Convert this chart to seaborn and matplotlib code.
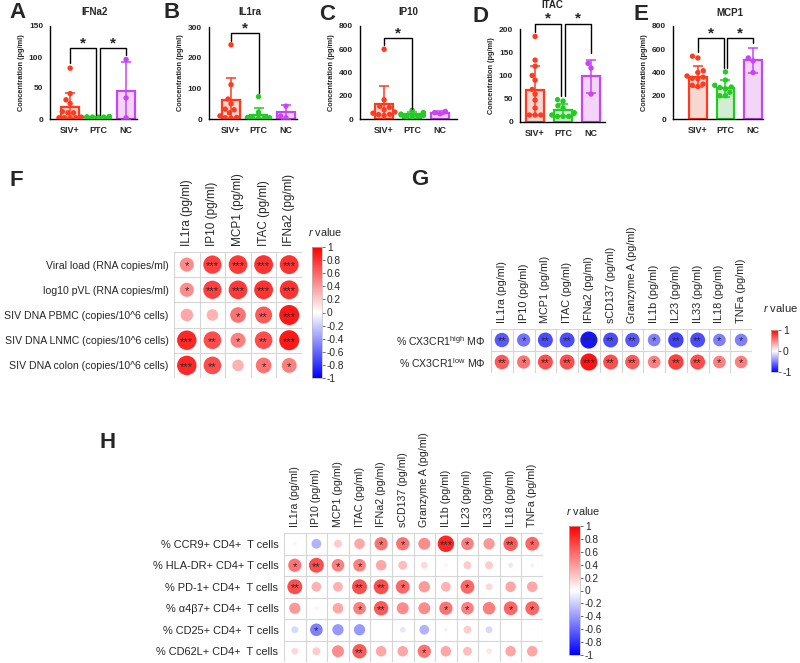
import numpy as np
import pandas as pd
import matplotlib
matplotlib.use("Agg")
import matplotlib.pyplot as plt
import seaborn as sns
from matplotlib.colors import Normalize
from matplotlib.cm import ScalarMappable

sns.set_style("white")
plt.rcParams["font.family"] = ["Liberation Sans", "DejaVu Sans"]
plt.rcParams["mathtext.fontset"] = "custom"
plt.rcParams["mathtext.rm"] = "Liberation Sans"
plt.rcParams["mathtext.it"] = "Liberation Sans:italic"

# ---------------- data: bar panels ----------------
groups = ["SIV+", "PTC", "NC"]

ifna2_means = [19, 3, 45]
ifna2_sd = [23, 1, 47]
ifna2_siv = [82, 41, 31, 25, 12, 10, 10, 3, 2, 2, 2, 2]
ifna2_ptc = [4, 3, 3, 3, 3, 3, 3, 3, 3]
ifna2_nc = [96, 34, 2]

il1ra_means = [62, 13, 23]
il1ra_sd = [71, 22, 22]
il1ra_siv = [242, 112, 65, 50, 32, 30, 20, 10, 5, 4, 3]
il1ra_ptc = [73, 22, 5, 4, 3, 2, 2, 2]
il1ra_nc = [42, 10, 4]

ip10_means = [130, 40, 55]
ip10_sd = [153, 18, 12]
ip10_siv = [600, 165, 110, 100, 80, 60, 50, 40, 38, 30]
ip10_ptc = [75, 55, 50, 42, 35, 30, 25, 20, 15]
ip10_nc = [65, 55, 45]

itac_means = [68, 25, 98]
itac_sd = [52, 13, 36]
itac_siv = [184, 133, 120, 100, 90, 70, 60, 47, 30, 15, 15, 15]
itac_ptc = [48, 45, 35, 30, 20, 18, 15, 12, 12, 12]
itac_nc = [126, 116, 60]

mcp1_means = [365, 265, 505]
mcp1_sd = [90, 72, 105]
mcp1_siv = [540, 525, 415, 400, 370, 360, 350, 345, 300, 290, 280]
mcp1_ptc = [405, 335, 290, 275, 270, 260, 230, 200, 200]
mcp1_nc = [525, 500, 400]

# ---------------- data: correlation panels ----------------
f_rows = ["Viral load (RNA copies/ml)", "log10 pVL (RNA copies/ml)",
          "SIV DNA PBMC (copies/10^6 cells)", "SIV DNA LNMC (copies/10^6 cells)",
          "SIV DNA colon (copies/10^6 cells)"]
f_cols = ["IL1ra (pg/ml)", "IP10 (pg/ml)", "MCP1 (pg/ml)", "ITAC (pg/ml)", "IFNa2 (pg/ml)"]
f_r = [[0.45, 0.75, 0.78, 0.80, 0.80],
       [0.45, 0.75, 0.78, 0.80, 0.80],
       [0.35, 0.30, 0.55, 0.65, 0.90],
       [0.85, 0.70, 0.50, 0.70, 0.90],
       [0.85, 0.70, 0.30, 0.55, 0.50]]
f_stars = [["*", "***", "***", "***", "***"],
           ["*", "***", "***", "***", "***"],
           ["", "", "*", "**", "***"],
           ["***", "**", "*", "**", "***"],
           ["***", "**", "", "*", "*"]]

cyto_cols = ["IL1ra (pg/ml)", "IP10 (pg/ml)", "MCP1 (pg/ml)", "ITAC (pg/ml)",
             "IFNa2 (pg/ml)", "sCD137 (pg/ml)", "Granzyme A (pg/ml)", "IL1b (pg/ml)",
             "IL23 (pg/ml)", "IL33 (pg/ml)", "IL18 (pg/ml)", "TNFa (pg/ml)"]

g_rows = ["% CX3CR1$^{\\mathrm{high}}$ MΦ", "% CX3CR1$^{\\mathrm{low}}$ MΦ"]
g_r = [[-0.65, -0.55, -0.70, -0.70, -0.92, -0.70, -0.65, -0.50, -0.75, -0.70, -0.50, -0.50],
       [0.65, 0.55, 0.70, 0.70, 0.92, 0.70, 0.65, 0.50, 0.75, 0.70, 0.50, 0.50]]
g_stars = [["**", "*", "**", "**", "***", "**", "**", "*", "**", "**", "*", "*"],
           ["**", "*", "**", "**", "***", "**", "**", "*", "**", "**", "*", "*"]]

h_rows = ["% CCR9+ CD4+  T cells", "% HLA-DR+ CD4+ T cells", "% PD-1+ CD4+  T cells",
          "% α4β7+ CD4+  T cells", "% CD25+ CD4+  T cells", "% CD62L+ CD4+  T cells"]
h_r = [[0.05, -0.30, 0.20, 0.35, 0.55, 0.55, 0.45, 0.85, 0.50, 0.40, 0.65, 0.60],
       [0.55, 0.70, 0.50, 0.50, 0.35, 0.25, 0.15, 0.05, 0.20, 0.20, -0.08, -0.05],
       [0.70, 0.30, 0.30, 0.70, 0.70, 0.60, 0.40, 0.30, 0.60, 0.15, 0.35, 0.35],
       [0.40, 0.05, 0.35, 0.50, 0.65, 0.45, 0.45, 0.55, 0.50, 0.50, 0.60, 0.60],
       [-0.15, -0.50, -0.40, -0.40, 0.0, -0.10, -0.30, -0.05, 0.20, -0.15, 0.0, 0.02],
       [0.15, 0.20, 0.45, 0.65, 0.35, 0.35, 0.55, 0.35, 0.25, 0.10, 0.35, 0.35]]
h_stars = [["", "", "", "", "*", "*", "", "***", "*", "", "**", "*"],
           ["*", "**", "*", "*", "", "", "", "", "", "", "", ""],
           ["**", "", "", "**", "**", "*", "", "", "*", "", "", ""],
           ["", "", "", "*", "**", "", "", "*", "*", "", "*", "*"],
           ["", "*", "", "", "", "", "", "", "", "", "", ""],
           ["", "", "", "**", "", "", "*", "", "", "", "", ""]]

# ---------------- styling ----------------
strong = {"SIV+": "#FF3B1F", "PTC": "#22CC22", "NC": "#C944F5"}
light = {"SIV+": "#FFD2CB", "PTC": "#CDF3CD", "NC": "#F6CFFF"}

W, H = 800, 663
fig = plt.figure(figsize=(W / 100, H / 100), dpi=100)


def add_ax(l, t, r, b):
    return fig.add_axes([l / W, 1 - b / H, (r - l) / W, (b - t) / H])


def bar_panel(box, title, tpos, means, sds, vals, ylim, yticks, xlim, brackets):
    ax = add_ax(*box)
    sns.barplot(x=groups, y=means, hue=groups, palette=light, order=groups,
                hue_order=groups, errorbar=None, width=0.64, ax=ax, legend=False,
                linewidth=1.6)
    for cont, g in zip(ax.containers, groups):
        for p in cont.patches:
            p.set_edgecolor(strong[g])
    for i, g in enumerate(groups):
        ax.errorbar([i], [means[i]], yerr=[sds[i]], fmt="none", ecolor=strong[g],
                    elinewidth=1.1, capsize=3.5, capthick=1.1, zorder=4)
    df = pd.DataFrame({"group": sum([[g] * len(v) for g, v in zip(groups, vals)], []),
                       "value": sum([list(v) for v in vals], [])})
    sns.swarmplot(data=df, x="group", y="value", hue="group", order=groups,
                  hue_order=groups, palette=strong, size=3.9, linewidth=0,
                  legend=False, ax=ax, zorder=5, warn_thresh=1.0)
    ax.set_xlim(*xlim)
    ax.set_ylim(*ylim)
    ax.set_yticks(yticks)
    ax.set_yticklabels([str(t) for t in yticks], fontsize=6, fontweight="bold")
    ax.set_xticks(range(3))
    ax.set_xticklabels(groups, fontsize=6.5, fontweight="bold")
    ax.set_xlabel("")
    ax.set_ylabel("Concentration (pg/ml)", fontsize=5.3, fontweight="bold", labelpad=3)
    sns.despine(ax=ax)
    for s in ["left", "bottom"]:
        ax.spines[s].set_linewidth(1.0)
        ax.spines[s].set_color("black")
    ax.tick_params(axis="both", width=1.0, length=3, pad=2, color="black")
    for (x1, x2, y, y1, y2) in brackets:
        ax.plot([x1, x1, x2, x2], [y1, y, y, y2], color="black", lw=1.0,
                clip_on=False, zorder=6)
        ax.annotate("*", xy=((x1 + x2) / 2, y), xytext=(0, -1.5),
                    textcoords="offset points", ha="center", va="bottom",
                    fontsize=11, fontweight="bold", annotation_clip=False)
    fig.text(tpos[0] / W, 1 - tpos[1] / H, title, ha="center", va="center",
             fontsize=7, fontweight="bold")
    return ax


bar_panel((50, 26, 137, 119), "IFNa2", (95, 12), ifna2_means, ifna2_sd,
          [ifna2_siv, ifna2_ptc, ifna2_nc], (0, 150), [0, 50, 100, 150], (-0.72, 2.39),
          [(0, 0.94, 114, 90, 7), (1.06, 2, 114, 7, 103)])
bar_panel((209, 27, 297, 119), "IL1ra", (250, 12), il1ra_means, il1ra_sd,
          [il1ra_siv, il1ra_ptc, il1ra_nc], (0, 300), [0, 100, 200, 300], (-0.8, 2.4),
          [(0, 1, 280, 255, 85)])
bar_panel((360, 26, 457, 119), "IP10", (408, 12), ip10_means, ip10_sd,
          [ip10_siv, ip10_ptc, ip10_nc], (0, 800), [0, 200, 400, 600, 800], (-0.86, 2.6),
          [(0, 1, 697, 640, 90)])
bar_panel((520, 29, 605, 122), "ITAC", (552, 5), itac_means, itac_sd,
          [itac_siv, itac_ptc, itac_nc], (0, 200), [0, 50, 100, 150, 200], (-0.54, 2.5),
          [(0, 0.94, 211, 194, 55), (1.06, 2, 211, 55, 148)])
bar_panel((673, 26, 763, 119), "MCP1", (730, 13), mcp1_means, mcp1_sd,
          [mcp1_siv, mcp1_ptc, mcp1_nc], (0, 800), [0, 200, 400, 600, 800], (-0.9, 2.36),
          [(0, 0.94, 697, 575, 440), (1.06, 2, 697, 440, 650)])


def corrplot(box, r, stars, rows, cols, smax, rowfs, colfs, starfs):
    ax = add_ax(*box)
    r = np.array(r, dtype=float)
    nr, nc = r.shape
    df = pd.DataFrame({"x": np.tile(np.arange(nc), nr) + 0.5,
                       "y": np.repeat(np.arange(nr), nc) + 0.5,
                       "r": r.ravel(), "a": np.abs(r).ravel()})
    sns.scatterplot(data=df, x="x", y="y", hue="r", size="a", sizes=(0, smax),
                    size_norm=(0, 1), hue_norm=(-1, 1), palette="bwr", legend=False,
                    linewidth=0, ax=ax, zorder=3)
    for i in range(nc + 1):
        ax.axvline(i, color="#d6d6d6", lw=0.8, zorder=1)
    for j in range(nr + 1):
        ax.axhline(j, color="#d6d6d6", lw=0.8, zorder=1)
    for j in range(nr):
        for i in range(nc):
            if stars[j][i]:
                ax.text(i + 0.5, j + 0.57, stars[j][i], ha="center", va="center",
                        fontsize=starfs, color="#2a2a2a", zorder=4)
    ax.set_xlim(0, nc)
    ax.set_ylim(nr, 0)
    ax.set_xticks(np.arange(nc) + 0.5)
    ax.set_xticklabels(cols, rotation=90, fontsize=colfs)
    ax.xaxis.tick_top()
    ax.set_yticks(np.arange(nr) + 0.5)
    ax.set_yticklabels(rows, fontsize=rowfs)
    ax.tick_params(length=0, pad=4)
    ax.set_xlabel("")
    ax.set_ylabel("")
    for s in ax.spines.values():
        s.set_visible(False)
    return ax


def colorbar(box, ticks, fs, title_pos):
    cax = add_ax(*box)
    cb = fig.colorbar(ScalarMappable(norm=Normalize(-1, 1), cmap="bwr"), cax=cax,
                      ticks=ticks)
    cb.ax.set_yticklabels(["%g" % round(t, 1) for t in ticks], fontsize=fs)
    cb.ax.tick_params(length=2, width=0.6, pad=1.5, color="#555555")
    cb.outline.set_edgecolor("#bbbbbb")
    cb.outline.set_linewidth(0.5)
    fig.text(title_pos[0] / W, 1 - title_pos[1] / H, "$\\it{r}$ value",
             ha="center", va="center", fontsize=fs + 0.5)


corrplot((174, 252, 302, 378), f_r, f_stars, f_rows, f_cols, 230, 7.6, 8.5, 8)
colorbar((312, 247, 322, 378), np.linspace(1, -1, 11), 7.3, (325, 232))

corrplot((491, 329, 752, 373), g_r, g_stars, g_rows, cyto_cols, 165, 7.6, 7.8, 8)
colorbar((771, 330, 778, 372), [1, 0, -1], 7.5, (780, 308))

corrplot((284, 533, 543, 662), h_r, h_stars, h_rows, cyto_cols, 165, 7.9, 7.7, 8)
colorbar((569, 526, 580, 655), np.linspace(1, -1, 11), 7.3, (583, 511))

for letter, (x, y) in {"A": (17, 13), "B": (172, 13), "C": (327, 15), "D": (481, 17),
                       "E": (641, 15), "F": (16, 181), "G": (420, 180),
                       "H": (108, 443)}.items():
    fig.text(x / W, 1 - y / H, letter, ha="center", va="center", fontsize=16,
             fontweight="bold")

fig.savefig("out.png", dpi=100)
